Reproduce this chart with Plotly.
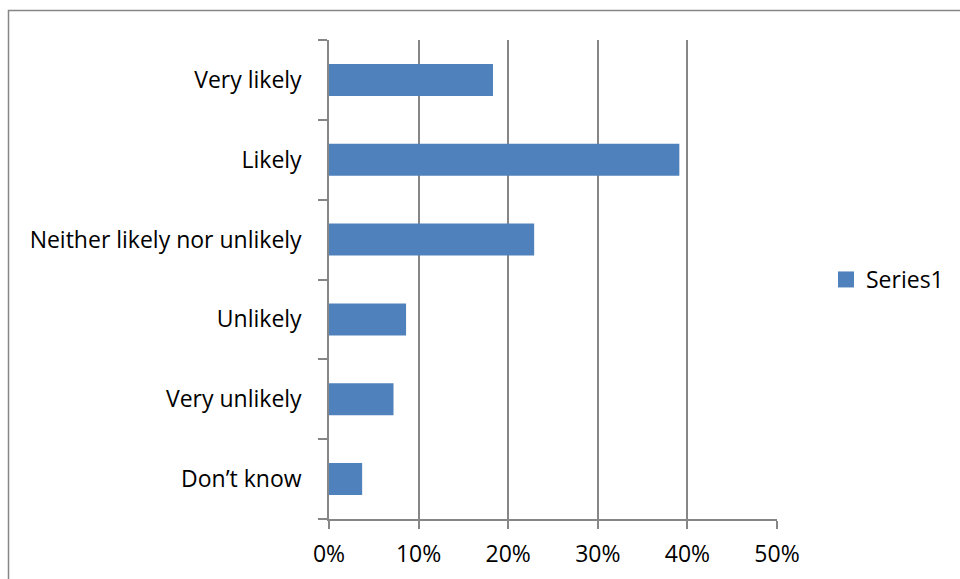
import plotly.graph_objects as go

# Survey response shares
categories = ["Very likely", "Likely", "Neither likely nor unlikely",
              "Unlikely", "Very unlikely", "Don\u2019t know"]
shares = [0.183, 0.391, 0.229, 0.086, 0.072, 0.037]
series_name = "Series1"

AXIS_GRAY = "#868686"
BAR_BLUE = "#4F81BD"
FONT = "Open Sans"
FONT_SIZE = 23

fig = go.Figure()
fig.add_trace(
    go.Bar(
        x=shares,
        y=categories,
        orientation="h",
        name=series_name,
        marker=dict(color=BAR_BLUE, line=dict(width=0)),
        showlegend=False,
    )
)
# legend entry with a larger square swatch
fig.add_trace(
    go.Scatter(
        x=[None],
        y=[None],
        mode="markers",
        name=series_name,
        marker=dict(symbol="square", size=16, color=BAR_BLUE),
        showlegend=True,
    )
)

# plot area spans 329..777 px horizontally and 40..519 px vertically
L, R, T, B = 329, 183, 40, 60
W, H = 960, 579
pw, ph = W - L - R, H - T - B

def px_x(p):
    return (p - L) / pw

def px_y(p):
    return (H - B - p) / ph

fig.update_layout(
    width=W,
    height=H,
    margin=dict(l=L, r=R, t=T, b=B, autoexpand=False),
    paper_bgcolor="white",
    plot_bgcolor="white",
    bargap=0.6,
    font=dict(family=FONT, size=FONT_SIZE, color="#000000"),
    xaxis=dict(
        range=[0, 0.5],
        dtick=0.1,
        tickformat=".0%",
        showgrid=True,
        gridcolor=AXIS_GRAY,
        gridwidth=1.5,
        zeroline=False,
        showline=True,
        linecolor=AXIS_GRAY,
        linewidth=1.5,
        ticks="outside",
        ticklen=8,
        tickcolor=AXIS_GRAY,
        tickwidth=1.5,
        ticklabelstandoff=6,
        automargin=False,
        fixedrange=True,
    ),
    yaxis=dict(
        categoryorder="array",
        categoryarray=categories[::-1],
        showgrid=False,
        zeroline=False,
        showline=True,
        linecolor=AXIS_GRAY,
        linewidth=1.5,
        ticks="outside",
        tickson="boundaries",
        ticklen=9,
        tickcolor=AXIS_GRAY,
        tickwidth=1.5,
        ticklabelstandoff=21,
        automargin=False,
        fixedrange=True,
    ),
    legend=dict(
        x=px_x(826),
        y=0.5,
        xanchor="left",
        yanchor="middle",
        font=dict(family=FONT, size=FONT_SIZE),
        bgcolor="rgba(0,0,0,0)",
        itemwidth=30,
    ),
    shapes=[
        dict(
            type="rect",
            xref="paper",
            yref="paper",
            x0=px_x(8.5),
            y0=px_y(590),
            x1=px_x(975),
            y1=px_y(10.5),
            line=dict(color=AXIS_GRAY, width=1.5),
            fillcolor="rgba(0,0,0,0)",
            layer="below",
        )
    ],
)

fig.write_html("out.html")
